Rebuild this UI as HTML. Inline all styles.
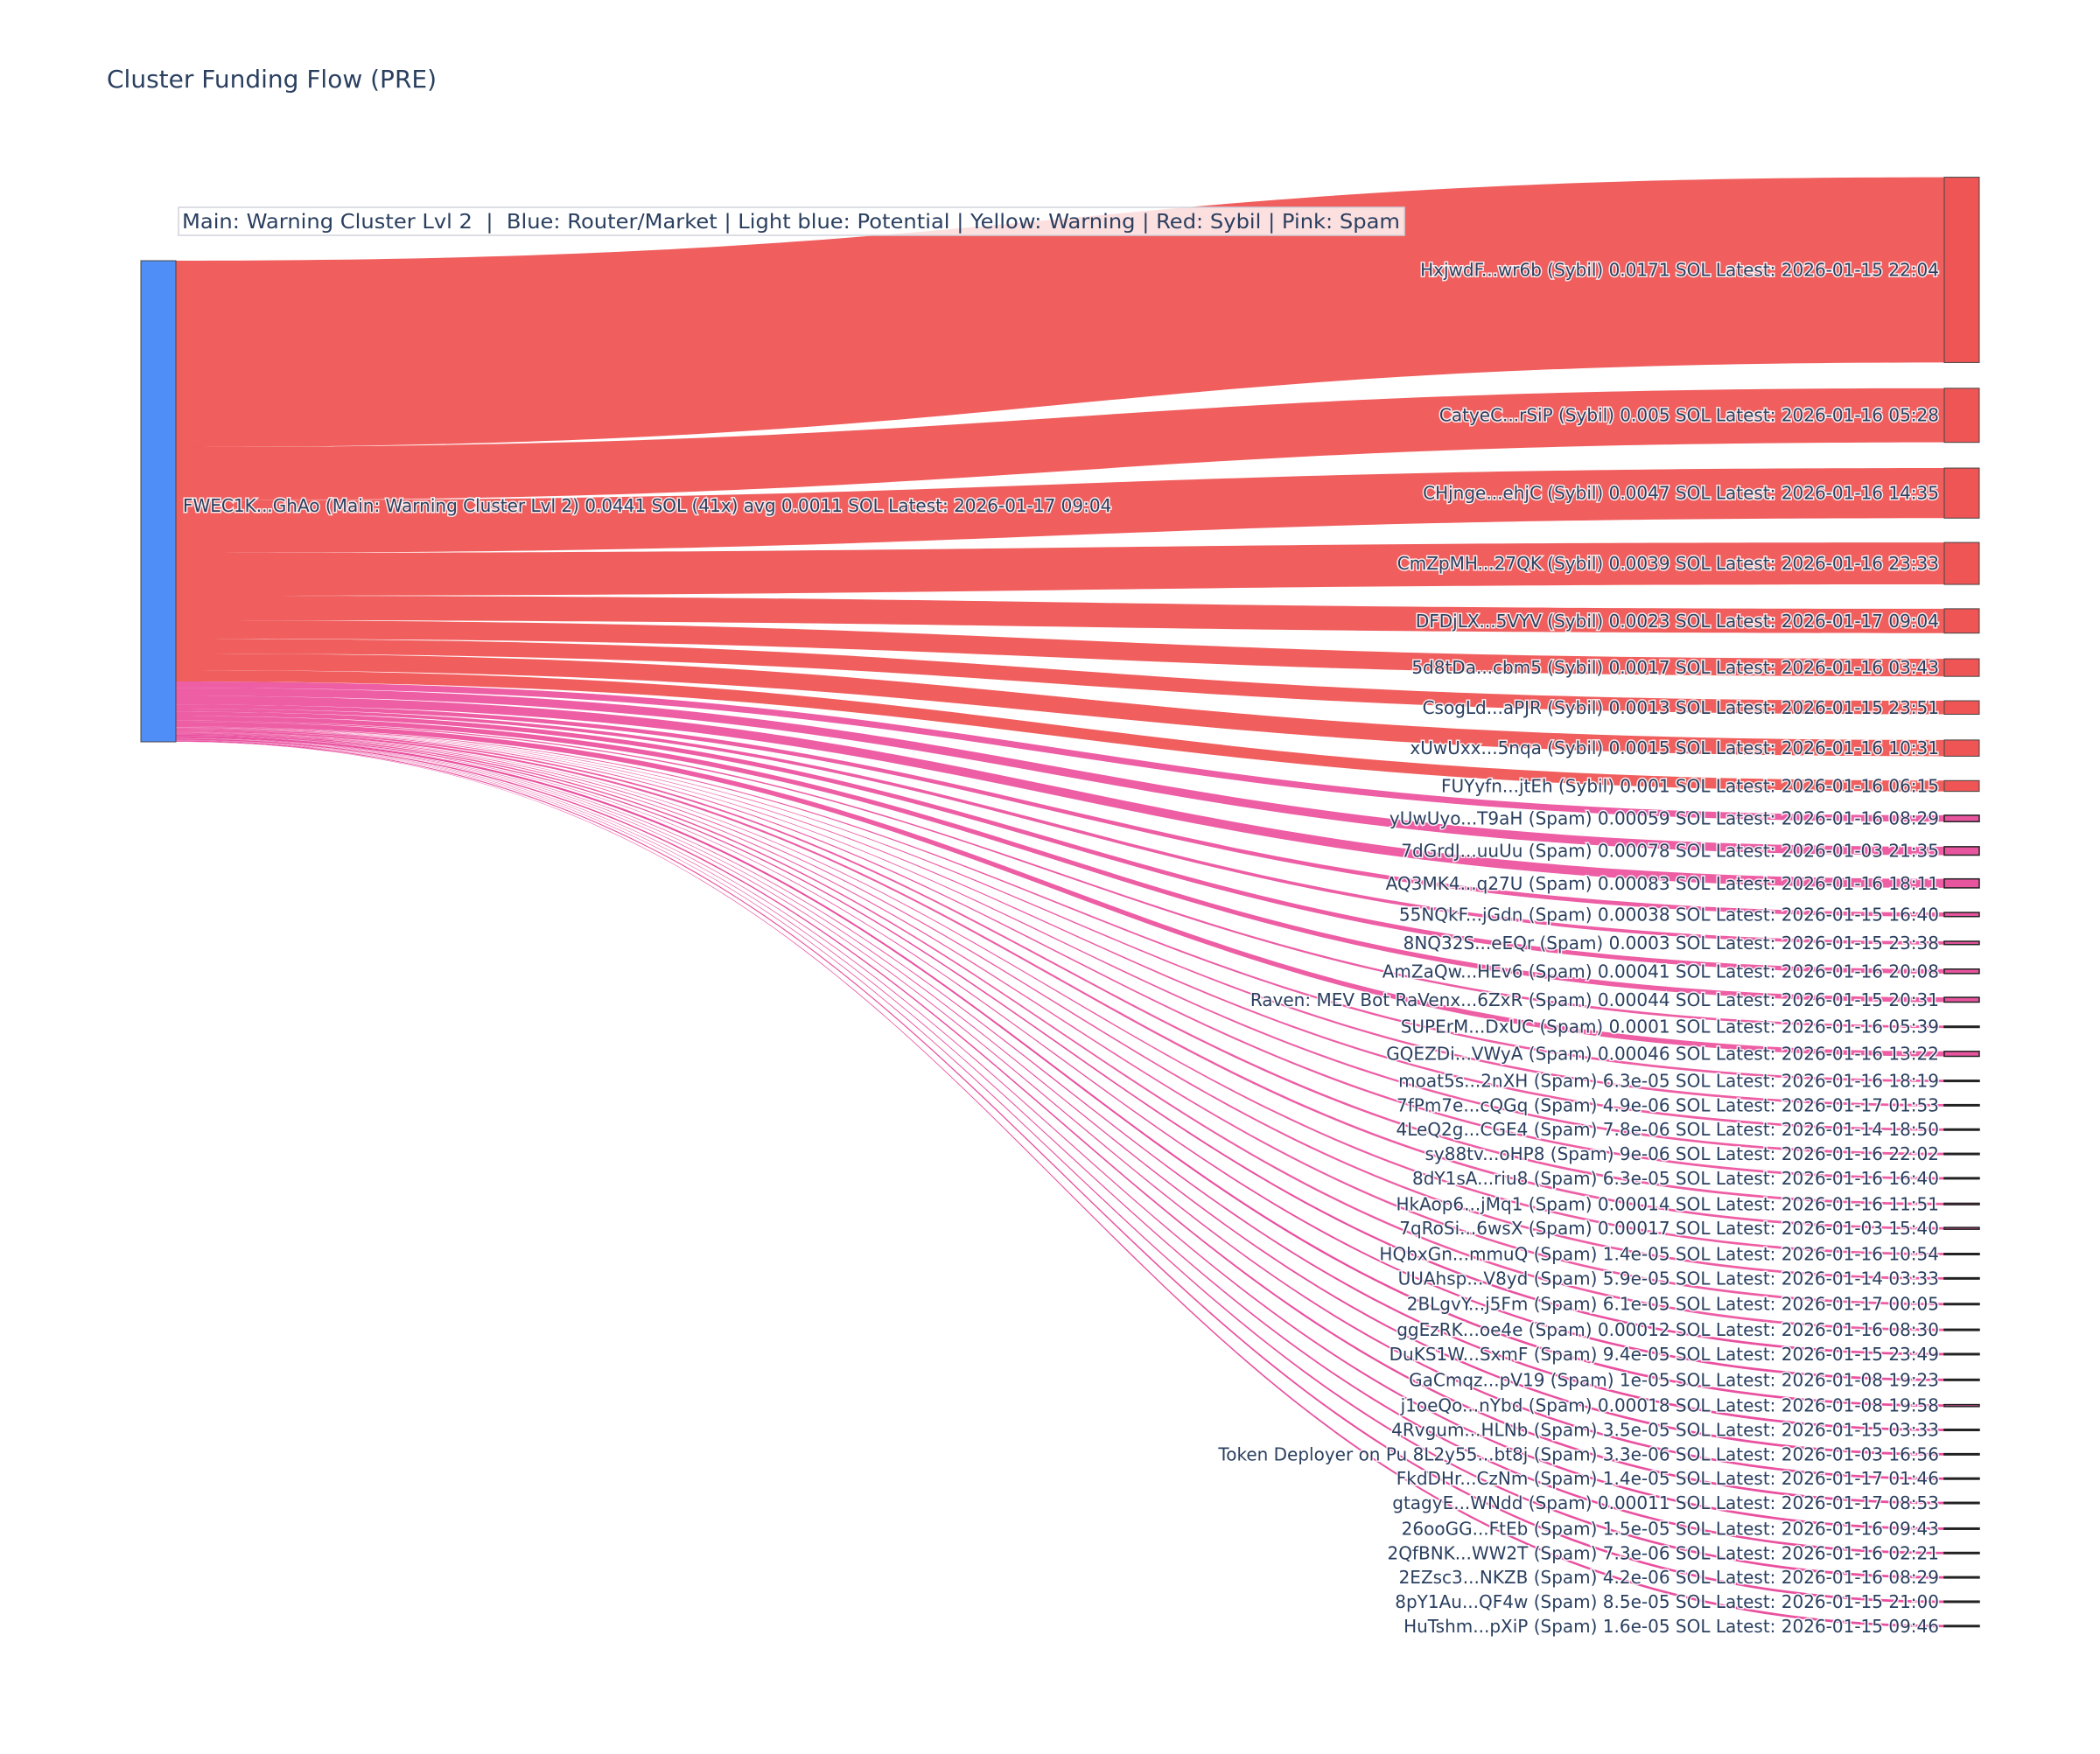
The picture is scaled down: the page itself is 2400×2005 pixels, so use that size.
<!DOCTYPE html>
<html><head><meta charset="utf-8"><style>
html,body{margin:0;padding:0;background:#fff;}
svg text{font-family:"DejaVu Sans","Liberation Sans",sans-serif;fill:#2a3f5f;white-space:pre;}
.lbl{font-size:20px;paint-order:stroke;stroke:#fff;stroke-width:3px;stroke-opacity:0.85;}
</style></head><body>
<svg id="s" width="2400" height="2000" xmlns="http://www.w3.org/2000/svg" xml:space="preserve">
<text x="122" y="100" style="font-size:28px">Cluster Funding Flow (PRE)</text>
<g id="links"></g>
<g id="nodes"></g>
<g id="labels"></g>
<rect x="204" y="237" width="1401" height="32" fill="#fff" fill-opacity="0.8" stroke="#d0d4dc" stroke-width="1.5"/>
<text x="208" y="261" textLength="1392" lengthAdjust="spacingAndGlyphs" style="font-size:23.5px">Main: Warning Cluster Lvl 2  |  Blue: Router/Market | Light blue: Potential | Yellow: Warning | Red: Sybil | Pink: Spam</text>
</svg>
<script>
const S=1.5464;
const sy=[
["HxjwdF...wr6b (Sybil) 0.0171 SOL Latest: 2026-01-15 22:04",131,268],
["CatyeC...rSiP (Sybil) 0.005 SOL Latest: 2026-01-16 05:28",287,327],
["CHjnge...ehjC (Sybil) 0.0047 SOL Latest: 2026-01-16 14:35",346,383],
["CmZpMH...27QK (Sybil) 0.0039 SOL Latest: 2026-01-16 23:33",401,432],
["DFDjLX...5VYV (Sybil) 0.0023 SOL Latest: 2026-01-17 09:04",450,468],
["5d8tDa...cbm5 (Sybil) 0.0017 SOL Latest: 2026-01-16 03:43",487,500],
["CsogLd...aPJR (Sybil) 0.0013 SOL Latest: 2026-01-15 23:51",518,528],
["xUwUxx...5nqa (Sybil) 0.0015 SOL Latest: 2026-01-16 10:31",547,559],
["FUYyfn...jtEh (Sybil) 0.001 SOL Latest: 2026-01-16 06:15",577,585]];
const sp=[
["yUwUyo...T9aH (Spam) 0.00059 SOL Latest: 2026-01-16 08:29",605,0.00059],
["7dGrdJ...uuUu (Spam) 0.00078 SOL Latest: 2026-01-03 21:35",629,0.00078],
["AQ3MK4...q27U (Spam) 0.00083 SOL Latest: 2026-01-16 18:11",653,0.00083],
["55NQkF...jGdn (Spam) 0.00038 SOL Latest: 2026-01-15 16:40",676,0.00038],
["8NQ32S...eEQr (Spam) 0.0003 SOL Latest: 2026-01-15 23:38",697,0.0003],
["AmZaQw...HEv6 (Spam) 0.00041 SOL Latest: 2026-01-16 20:08",718,0.00041],
["Raven: MEV Bot RaVenx...6ZxR (Spam) 0.00044 SOL Latest: 2026-01-15 20:31",739,0.00044],
["SUPErM...DxUC (Spam) 0.0001 SOL Latest: 2026-01-16 05:39",759,0.0001],
["GQEZDi...VWyA (Spam) 0.00046 SOL Latest: 2026-01-16 13:22",779,0.00046],
["moat5s...2nXH (Spam) 6.3e-05 SOL Latest: 2026-01-16 18:19",799,6.3e-5],
["7fPm7e...cQGq (Spam) 4.9e-06 SOL Latest: 2026-01-17 01:53",817,4.9e-6],
["4LeQ2g...CGE4 (Spam) 7.8e-06 SOL Latest: 2026-01-14 18:50",835,7.8e-6],
["sy88tv...oHP8 (Spam) 9e-06 SOL Latest: 2026-01-16 22:02",853,9e-6],
["8dY1sA...riu8 (Spam) 6.3e-05 SOL Latest: 2026-01-16 16:40",871,6.3e-5],
["HkAop6...jMq1 (Spam) 0.00014 SOL Latest: 2026-01-16 11:51",890,0.00014],
["7qRoSi...6wsX (Spam) 0.00017 SOL Latest: 2026-01-03 15:40",908,0.00017],
["HQbxGn...mmuQ (Spam) 1.4e-05 SOL Latest: 2026-01-16 10:54",927,1.4e-5],
["UUAhsp...V8yd (Spam) 5.9e-05 SOL Latest: 2026-01-14 03:33",945,5.9e-5],
["2BLgvY...j5Fm (Spam) 6.1e-05 SOL Latest: 2026-01-17 00:05",964,6.1e-5],
["ggEzRK...oe4e (Spam) 0.00012 SOL Latest: 2026-01-16 08:30",983,0.00012],
["DuKS1W...SxmF (Spam) 9.4e-05 SOL Latest: 2026-01-15 23:49",1001,9.4e-5],
["GaCmqz...pV19 (Spam) 1e-05 SOL Latest: 2026-01-08 19:23",1020,1e-5],
["j1oeQo...nYbd (Spam) 0.00018 SOL Latest: 2026-01-08 19:58",1039,0.00018],
["4Rvgum...HLNb (Spam) 3.5e-05 SOL Latest: 2026-01-15 03:33",1057,3.5e-5],
["Token Deployer on Pu 8L2y55...bt8j (Spam) 3.3e-06 SOL Latest: 2026-01-03 16:56",1075,3.3e-6],
["FkdDHr...CzNm (Spam) 1.4e-05 SOL Latest: 2026-01-17 01:46",1093,1.4e-5],
["gtagyE...WNdd (Spam) 0.00011 SOL Latest: 2026-01-17 08:53",1111,0.00011],
["26ooGG...FtEb (Spam) 1.5e-05 SOL Latest: 2026-01-16 09:43",1130,1.5e-5],
["2QfBNK...WW2T (Spam) 7.3e-06 SOL Latest: 2026-01-16 02:21",1148,7.3e-6],
["2EZsc3...NKZB (Spam) 4.2e-06 SOL Latest: 2026-01-16 08:29",1166,4.2e-6],
["8pY1Au...QF4w (Spam) 8.5e-05 SOL Latest: 2026-01-15 21:00",1184,8.5e-5],
["HuTshm...pXiP (Spam) 1.6e-05 SOL Latest: 2026-01-15 09:46",1202,1.6e-5]];
const NS="http://www.w3.org/2000/svg";
function el(p,t,a,txt){const e=document.createElementNS(NS,t);for(const k in a)e.setAttribute(k,a[k]);if(txt)e.textContent=txt;document.getElementById(p).appendChild(e);return e;}
const x0=201,x1=2222,xm=(x0+x1)/2;
function link(a0,a1,b0,b1,c){
  el("links","path",{d:`M${x0},${a0} C${xm},${a0} ${xm},${b0} ${x1},${b0} L${x1},${b1} C${xm},${b1} ${xm},${a1} ${x0},${a1} Z`,fill:c,"fill-opacity":0.95});
}
const srcB=[298,511,572,632,681,709,730,747,766,779];
sy.forEach((n,i)=>{link(srcB[i],srcB[i+1],n[1]*S,n[2]*S,"#ef5555");});
let tot=0;sp.forEach(n=>tot+=Math.max(n[2],2.5e-5));
let cur=779;const k=(848-779)/tot;
sp.forEach((n,i)=>{
  const w=Math.max(n[2],2.5e-5)*k;
  const h=Math.max(n[2]*12340,2.8);
  const c=n[1]*S;
  link(cur,cur+w,c-h/2,c+h/2,i<20?"#ec55a0":"#e8479a");
  cur+=w;
});
el("nodes","rect",{x:161,y:298,width:40,height:550,fill:"#4f8ef7",stroke:"#444",'stroke-width':1});
el("labels","text",{x:209,y:585,class:"lbl"},"FWEC1K...GhAo (Main: Warning Cluster Lvl 2) 0.0441 SOL (41x) avg 0.0011 SOL Latest: 2026-01-17 09:04");
sy.forEach(n=>{
  const t0=n[1]*S,t1=n[2]*S;
  el("nodes","rect",{x:2222,y:t0,width:40,height:t1-t0,fill:"#ef5555",stroke:"#444","stroke-width":1});
  el("labels","text",{x:2216,y:(t0+t1)/2+7,"text-anchor":"end",class:"lbl"},n[0]);
});
sp.forEach(n=>{
  const c=n[1]*S,h=Math.max(n[2]*12340,1.5);
  el("nodes","rect",{x:2222,y:c-h/2,width:40,height:h,fill:"#e8559f",stroke:"#222","stroke-width":1.5});
  el("labels","text",{x:2216,y:c+7,"text-anchor":"end",class:"lbl"},n[0]);
});
</script>
</body></html>
